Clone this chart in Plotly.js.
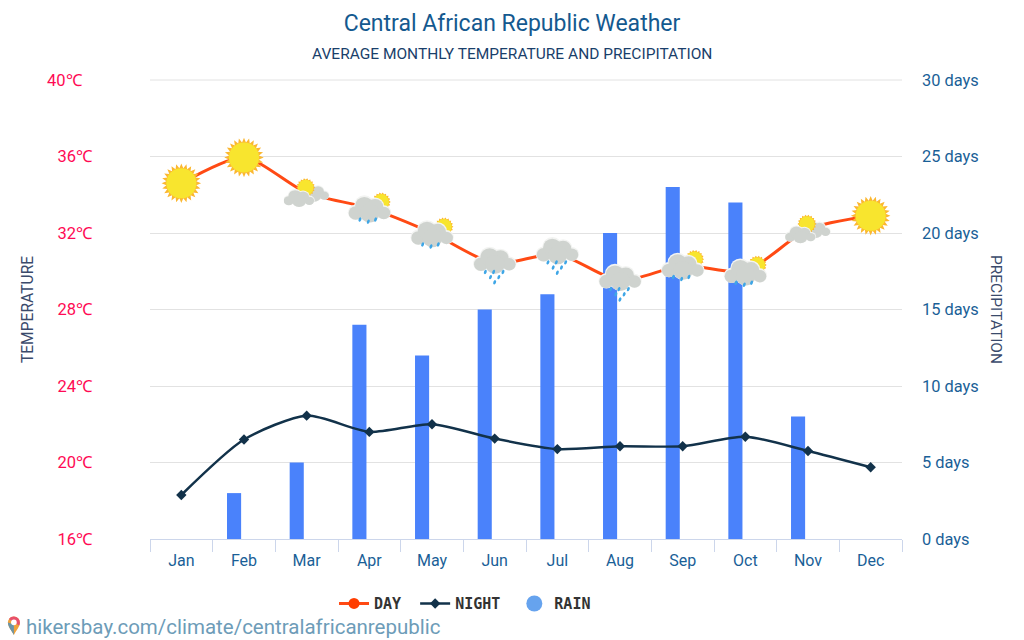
<!DOCTYPE html>
<html><head><meta charset="utf-8">
<script src="https://cdn.plot.ly/plotly-3.0.1.min.js"></script>
<style>html,body{margin:0;padding:0;background:#fff}#c{width:1024px;height:640px}</style>
</head><body><div id="c"></div>
<script>
const months=['Jan','Feb','Mar','Apr','May','Jun','Jul','Aug','Sep','Oct','Nov','Dec'];
const dayTemp=[34.6,35.95,34.1,33.3,32,30.4,30.9,29.5,30.3,30,32.2,32.9];
const nightTemp=[18.3,21.2,22.45,21.6,22,21.25,20.7,20.85,20.85,21.35,20.6,19.75];
const rainDays=[0,3,5,14,12,15,16,20,23,22,8,0];
const weatherIcons=['sun','sun','partly','partlyRain','partlyRain','rain','rain','rain','partlyRain','partlyRain','partly','sun'];
const tempTicks=[16,20,24,28,32,36];
const tempLabels=['16℃','20℃','24℃','28℃','32℃','36℃'];
const rainTicks=[0,5,10,15,20,25,30];
const rainLabels=['0 days','5 days','10 days','15 days','20 days','25 days','30 days'];

function sunShape(cx,cy,r,n,spike){
  let pts=[];
  for(let i=0;i<n*2;i++){const a=Math.PI*i/n,rr=i%2?r:r+spike;pts.push((cx+rr*Math.cos(a)).toFixed(2)+','+(cy+rr*Math.sin(a)).toFixed(2));}
  return `<polygon points="${pts.join(' ')}" fill="#fbb731"/><circle cx="${cx}" cy="${cy}" r="${r}" fill="#f8e52e"/>`;
}
function cloud(dx,dy,sx,sy){
  const c=[[9,26,6.5],[17,19,8.5],[27,20,7.5],[35,26,6],[22,26,9]];
  const outer=c.map(p=>`<circle cx="${p[0]}" cy="${p[1]}" r="${p[2]+0.8}" fill="#f3f4f2"/>`).join('');
  const inner=c.map(p=>`<circle cx="${p[0]}" cy="${p[1]+0.7}" r="${p[2]}" fill="#cfd3cf"/>`).join('');
  return `<g transform="translate(${dx},${dy}) scale(${sx},${sy})">${outer}${inner}</g>`;
}
function drops(list){
  return list.map(p=>`<ellipse cx="${p[0]}" cy="${p[1]}" rx="1.3" ry="2.2" fill="#3ea6e6" transform="rotate(20 ${p[0]} ${p[1]})"/>`).join('');
}
const svgBody={
  sun:sunShape(22,22,14.5,24,4.5),
  partly:cloud(13,7,.74,.66)+sunShape(21,17,7.5,18,1.6)+cloud(-2,12,.76,.66),
  partlyRain:sunShape(33.5,16,7.5,18,1.6)+cloud(-0.5,0,1.04,1)+drops([[13,33],[21,35],[28,33]]),
  rain:cloud(-0.5,-4,1.04,1)+drops([[13,30],[21,30],[30,30],[18,35],[26,35],[22,40]])
};
function iconUri(name){
  const svg=`<svg xmlns="http://www.w3.org/2000/svg" width="88" height="88" viewBox="0 0 44 44">${svgBody[name]}</svg>`;
  return 'data:image/svg+xml;base64,'+btoa(svg);
}
const pinSvg=`<svg xmlns="http://www.w3.org/2000/svg" width="28" height="40" viewBox="0 0 14 20"><path d="M7 19.5C4 14 1 11 1 7a6 6 0 0 1 12 0c0 4-3 7-6 12.500z" fill="#f0a23a"/><path d="M7 1a6 6 0 0 1 6 6c0 1-.2 2-.6 3L7 7 2 3.500A6 6 0 0 1 7 1z" fill="#e8506a"/><path d="M7 19.5C4 14 1 11 1 7l6 2z" fill="#6a95a8"/><circle cx="7" cy="7" r="2.800" fill="#fff"/></svg>`;

const traces=[
 {type:'bar',x:months,y:rainDays,yaxis:'y',width:0.225,offset:-0.271,marker:{color:'#4a82fb'},showlegend:false,hoverinfo:'y'},
 {type:'scatter',mode:'lines+markers',name:'DAY\u00a0',x:months,y:dayTemp,yaxis:'y2',
  line:{color:'#ff4a14',width:3,shape:'spline',smoothing:0.7},marker:{color:'#ff3d00',size:11,symbol:'circle'},legendrank:1},
 {type:'scatter',mode:'lines+markers',name:'NIGHT\u00a0',x:months,y:nightTemp,yaxis:'y2',
  line:{color:'#12324a',width:2.500,shape:'spline',smoothing:0.7},marker:{color:'#12324a',size:8,symbol:'diamond'},legendrank:2},
 {type:'scatter',mode:'markers',name:'RAIN',x:[null],y:[null],yaxis:'y',marker:{color:'#66a3ee',size:16,symbol:'circle'},legendrank:3}
];
const images=months.map((m,i)=>({source:iconUri(weatherIcons[i]),xref:'x',yref:'y2',x:m,y:dayTemp[i],sizex:0.73,sizey:2.4,
    xanchor:'center',yanchor:'middle',sizing:'contain',layer:'above'}));
images.push({source:'data:image/svg+xml;base64,'+btoa(pinSvg),xref:'paper',yref:'paper',x:-0.192,y:-0.1665,sizex:0.022,sizey:0.0435,xanchor:'left',yanchor:'top',sizing:'contain',layer:'above'});

const font='Roboto, sans-serif';
const layout={
 width:1024,height:640,autosize:false,paper_bgcolor:'#fff',plot_bgcolor:'#fff',showlegend:true,
 margin:{l:150,r:122,t:79.5,b:100.5,pad:0},
 font:{family:font},
 title:{text:'Central African Republic Weather',font:{family:font,size:23,color:'#14598f'},x:0.5,xanchor:'center',xref:'container',y:0.9645,yanchor:'middle',yref:'container'},
 xaxis:{type:'category',categoryorder:'array',categoryarray:months,range:[-0.5,11.5],tickson:'boundaries',ticks:'outside',ticklen:12,tickwidth:1,tickcolor:'#ccd6eb',
   showline:true,linecolor:'#ccd6eb',linewidth:1,showgrid:false,zeroline:false,ticklabelstandoff:7,tickfont:{family:font,size:16,color:'#1a5f97'},fixedrange:true},
 yaxis:{range:[0,30],tickvals:rainTicks,ticktext:rainLabels,side:'right',showgrid:true,gridcolor:'#e2e2e2',gridwidth:1,zeroline:false,showline:false,
   ticks:'',ticklabelstandoff:19,tickfont:{family:font,size:16.4,color:'#1a5f97'},fixedrange:true},
 yaxis2:{range:[16,40],overlaying:'y',side:'left',tickvals:tempTicks,ticktext:tempLabels,showgrid:false,zeroline:false,showline:false,
   ticks:'',ticklabelstandoff:57,tickfont:{family:font,size:16.5,color:'#ff0a54'},
   title:{text:'TEMPERATURE',font:{family:font,size:15.6,color:'#3a4a6b'},standoff:19},fixedrange:true},
 shapes:[{type:'line',xref:'paper',yref:'paper',x0:0,x1:1,y0:1,y1:1,line:{color:'#e2e2e2',width:1},layer:'below'}],
 legend:{orientation:'h',x:0.2447,xanchor:'left',y:-0.141,yanchor:'middle',font:{family:'"DejaVu Sans Mono", monospace',size:15,color:'#333',weight:700},
   itemwidth:30,itemclick:false,itemdoubleclick:false,bgcolor:'rgba(0,0,0,0)'},
 images:images,
 annotations:[
  {text:'AVERAGE MONTHLY TEMPERATURE AND PRECIPITATION',xref:'paper',yref:'paper',x:0.4814,xanchor:'center',y:1.0565,yanchor:'middle',showarrow:false,font:{family:font,size:15.5,color:'#1a3f6b'}},
  {text:'40℃',xref:'paper',yref:'y2',x:-0.0865,xanchor:'right',y:40,yanchor:'middle',showarrow:false,font:{family:font,size:16.5,color:'#ff0a54'}},
  {text:'PRECIPITATION',xref:'paper',yref:'paper',x:1.1258,xanchor:'center',y:0.5,yanchor:'middle',textangle:90,showarrow:false,font:{family:font,size:15.5,color:'#3a4a6b'}},
  {text:'hikersbay.com/climate/centralafricanrepublic',xref:'paper',yref:'paper',x:-0.168,xanchor:'left',y:-0.191,yanchor:'middle',showarrow:false,font:{family:font,size:20.5,color:'#6d9cb8'}}
 ]
};
Plotly.newPlot('c',traces,layout,{displayModeBar:false});
</script></body></html>
